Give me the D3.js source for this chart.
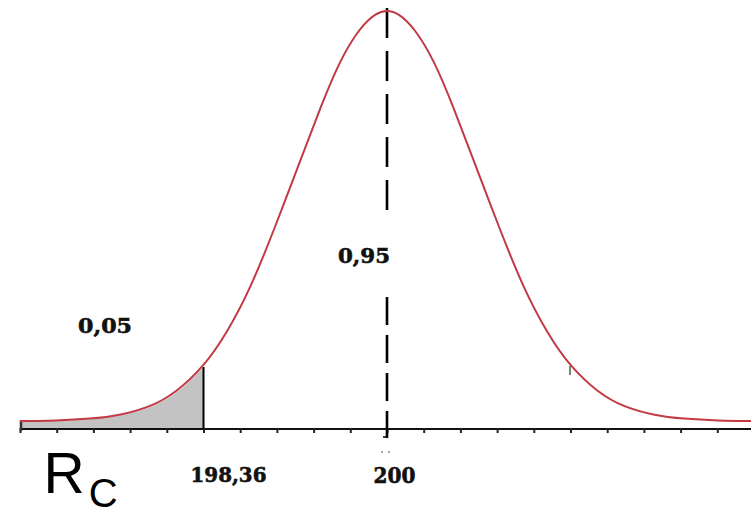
<!DOCTYPE html>
<html>
<head>
<meta charset="utf-8">
<script src="https://cdn.jsdelivr.net/npm/d3@7"></script>
<style>
  html, body { margin: 0; padding: 0; background: #fff; }
  svg { display: block; }
</style>
</head>
<body>
<svg id="chart" width="751" height="516"></svg>
<script>
// ---- data ----
const curveX = [196.72, 197.04, 197.35, 197.62, 197.89, 198.11, 198.36, 198.56, 198.78, 199.00,
                199.23, 199.41, 199.58, 199.76, 199.90, 200.00,
                200.10, 200.24, 200.42, 200.59, 200.77, 201.00, 201.22, 201.44, 201.64,
                201.89, 202.11, 202.38, 202.65, 202.96, 203.28];
const curveY = [0.019, 0.020, 0.024, 0.033, 0.053, 0.086, 0.148, 0.225, 0.335, 0.482,
                0.644, 0.771, 0.881, 0.959, 0.993, 1.000,
                0.993, 0.959, 0.881, 0.771, 0.644, 0.482, 0.335, 0.225, 0.148,
                0.086, 0.053, 0.033, 0.024, 0.020, 0.019];
const criticalValue = 198.36;
const meanValue = 200;
const tickLabels = ["198,36", "200"];
const areaLabels = ["0,05", "0,95"];
const axisStart = 196.72;
const tickStep = 0.328;
const tickCount = 20;

const curve = curveX.map((x, i) => ({ x, y: curveY[i] }));

// ---- layout ----
const svg = d3.select("#chart");
const x = d3.scaleLinear().domain([196.72, 203.28]).range([20, 754]);
const y = d3.scaleLinear().domain([0, 1]).range([429, 10]);
const y0 = y(0);

// shaded left tail
const tail = curve.filter(d => d.x <= criticalValue + 1e-9);
svg.append("path")
  .datum(tail)
  .attr("fill", "#c3c3c3")
  .attr("d", d3.area().x(d => x(d.x)).y0(y0).y1(d => y(d.y)).curve(d3.curveMonotoneX));

// axis
const tickValues = d3.range(tickCount).map(k => axisStart + k * tickStep);
const axis = d3.axisBottom(x).tickValues(tickValues).tickSize(4).tickFormat("");
const gAxis = svg.append("g").attr("transform", `translate(0,${y0})`).call(axis);
gAxis.select(".domain").attr("d", `M${x.range()[0]},0H751`).attr("stroke", "#111").attr("stroke-width", 2.2);
gAxis.selectAll(".tick line").attr("stroke", "#222").attr("stroke-width", 2).attr("y1", -1);

// left edge mark
svg.append("line")
  .attr("x1", x(axisStart) + 1).attr("x2", x(axisStart) + 1)
  .attr("y1", y(curveY[0]) - 1).attr("y2", y0 + 2)
  .attr("stroke", "#333").attr("stroke-width", 2.5);

// vertical line at critical value
svg.append("line")
  .attr("x1", x(criticalValue)).attr("x2", x(criticalValue))
  .attr("y1", y(curveY[curveX.indexOf(criticalValue)])).attr("y2", y0)
  .attr("stroke", "#000").attr("stroke-width", 2);

// dashed line at mean (interrupted by the label)
const xm = x(meanValue);
svg.append("line")
  .attr("x1", xm).attr("x2", xm).attr("y1", y(1) - 2).attr("y2", 217)
  .attr("stroke", "#000").attr("stroke-width", 2.6).attr("stroke-dasharray", "30,13");
svg.append("line")
  .attr("x1", xm).attr("x2", xm).attr("y1", 297).attr("y2", 438)
  .attr("stroke", "#000").attr("stroke-width", 2.6).attr("stroke-dasharray", "28,10");
svg.append("line")
  .attr("x1", xm - 4).attr("x2", xm + 1).attr("y1", 437).attr("y2", 437)
  .attr("stroke", "#000").attr("stroke-width", 1.5);
svg.selectAll("rect.dot").data([-6, 1]).enter().append("rect")
  .attr("x", d => xm + d).attr("y", 451).attr("width", 2).attr("height", 2).attr("fill", "#aaa");

// the density curve
svg.append("path")
  .datum(curve)
  .attr("fill", "none")
  .attr("stroke", "#c23a44")
  .attr("stroke-width", 2)
  .attr("d", d3.line().x(d => x(d.x)).y(d => y(d.y)).curve(d3.curveBasis));

// small mark on right slope
svg.append("line")
  .attr("x1", 570).attr("x2", 570).attr("y1", 366).attr("y2", 375)
  .attr("stroke", "#555").attr("stroke-width", 1.5);

// labels
const labelFont = "'DejaVu Serif', serif";
function label(txt, lx, ly, size, len) {
  svg.append("text").text(txt)
    .attr("x", lx).attr("y", ly)
    .attr("font-family", labelFont).attr("font-weight", "bold").attr("font-size", size)
    .attr("textLength", len).attr("lengthAdjust", "spacingAndGlyphs")
    .attr("fill", "#111").attr("stroke", "#111").attr("stroke-width", 0.6);
}
label(tickLabels[0], x(criticalValue) - 13, 482, 21, 76);
label(tickLabels[1], xm - 13.5, 483, 22, 42);
label(areaLabels[0], 78, 333, 21, 54);
label(areaLabels[1], 338, 263, 21, 52);

// R_c
const rc = svg.append("text")
  .attr("x", 43.5).attr("y", 493)
  .attr("font-family", "'Liberation Sans', Arial, sans-serif")
  .attr("font-size", 57).attr("fill", "#000");
rc.append("tspan").text("R");
rc.append("tspan").text("C").attr("font-size", 40).attr("dx", 4).attr("dy", 14);
</script>
</body>
</html>
